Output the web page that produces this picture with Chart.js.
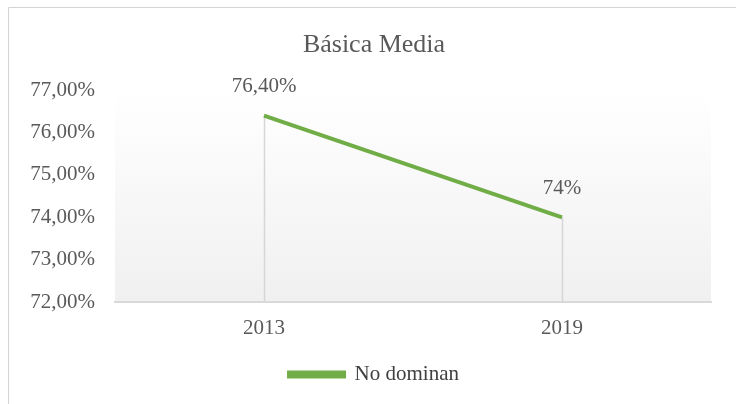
<!DOCTYPE html>
<html>
<head>
<meta charset="utf-8">
<script src="https://cdn.jsdelivr.net/npm/chart.js@4"></script>
<style>
  html, body { margin: 0; padding: 0; background: #fff; }
  #wrap { position: absolute; left: 0; top: 0; width: 736px; height: 404px; }
</style>
</head>
<body>
<div id="wrap"><canvas id="lineChart" width="736" height="404"></canvas></div>
<script>
var years = ['2013', '2019'];
var noDominan = [76.4, 74.0];
var pointLabels = ['76,40%', '74%'];
var seriesName = 'No dominan';
var chartTitle = 'Básica Media';

var serif = "'Liberation Serif', 'Times New Roman', serif";
var textColor = '#595959';
Chart.defaults.font.family = serif;

// frame, shaded plot background, drop lines and value labels
var decorPlugin = {
    id: 'decor',
    beforeDraw: function(chart) {
        var c = chart.ctx, a = chart.chartArea;
        c.save();
        c.strokeStyle = '#d4d4d4';
        c.lineWidth = 1;
        c.beginPath();
        c.moveTo(8.5, 404);
        c.lineTo(8.5, 7.5);
        c.lineTo(736, 7.5);
        c.stroke();
        var g = c.createLinearGradient(0, a.top, 0, a.bottom);
        g.addColorStop(0, '#ffffff');
        g.addColorStop(1, '#f0f0f0');
        c.fillStyle = g;
        c.fillRect(a.left, a.top + 6, a.right - a.left, a.bottom - a.top - 6);
        c.restore();
    },
    beforeDatasetsDraw: function(chart) {
        var c = chart.ctx, a = chart.chartArea;
        var meta = chart.getDatasetMeta(0);
        c.save();
        c.strokeStyle = '#d6d6d6';
        c.lineWidth = 1.5;
        meta.data.forEach(function(pt) {
            c.beginPath();
            c.moveTo(Math.round(pt.x) + 0.5, pt.y);
            c.lineTo(Math.round(pt.x) + 0.5, a.bottom);
            c.stroke();
        });
        c.restore();
    },
    afterDatasetsDraw: function(chart) {
        var c = chart.ctx;
        var meta = chart.getDatasetMeta(0);
        c.save();
        c.font = '21px ' + serif;
        c.fillStyle = textColor;
        c.textAlign = 'center';
        c.textBaseline = 'middle';
        meta.data.forEach(function(pt, i) {
            c.fillText(pointLabels[i], pt.x, pt.y - 29);
        });
        c.restore();
    }
};

var ctx = document.getElementById('lineChart').getContext('2d');
var lineChart = new Chart(ctx, {
    type: 'line',
    data: {
        labels: years,
        datasets: [{
            label: seriesName,
            data: noDominan,
            borderColor: '#70ad47',
            backgroundColor: '#70ad47',
            borderWidth: 4,
            pointRadius: 0,
            tension: 0
        }]
    },
    options: {
        responsive: false,
        animation: false,
        layout: { padding: { left: 12, right: 0, top: 0, bottom: 9 } },
        plugins: {
            title: {
                display: true,
                text: chartTitle,
                color: textColor,
                font: { family: serif, size: 26, weight: 'normal' },
                padding: { top: 30, bottom: 29 }
            },
            legend: {
                position: 'bottom',
                labels: {
                    color: '#404040',
                    font: { family: serif, size: 21 },
                    boxWidth: 55,
                    boxHeight: 4,
                    padding: 10
                }
            },
            tooltip: { enabled: false }
        },
        scales: {
            x: {
                offset: true,
                grid: { display: false, drawTicks: false },
                border: { color: '#d9d9d9', width: 2 },
                afterFit: function(scale) { scale.height = 52; },
                ticks: {
                    color: textColor,
                    font: { family: serif, size: 21 },
                    padding: 14
                }
            },
            y: {
                min: 72,
                max: 77,
                grid: { display: false, drawTicks: false },
                border: { display: false },
                afterFit: function(scale) { scale.width = 103; },
                ticks: {
                    stepSize: 1,
                    color: textColor,
                    font: { family: serif, size: 21 },
                    padding: 20,
                    callback: function(value) {
                        return value.toFixed(2).replace('.', ',') + '%';
                    }
                }
            },
            yRight: {
                position: 'right',
                min: 72,
                max: 77,
                grid: { display: false, drawTicks: false },
                border: { display: false },
                ticks: { display: false },
                afterFit: function(scale) { scale.width = 25; }
            }
        }
    },
    plugins: [decorPlugin]
});
</script>
</body>
</html>
